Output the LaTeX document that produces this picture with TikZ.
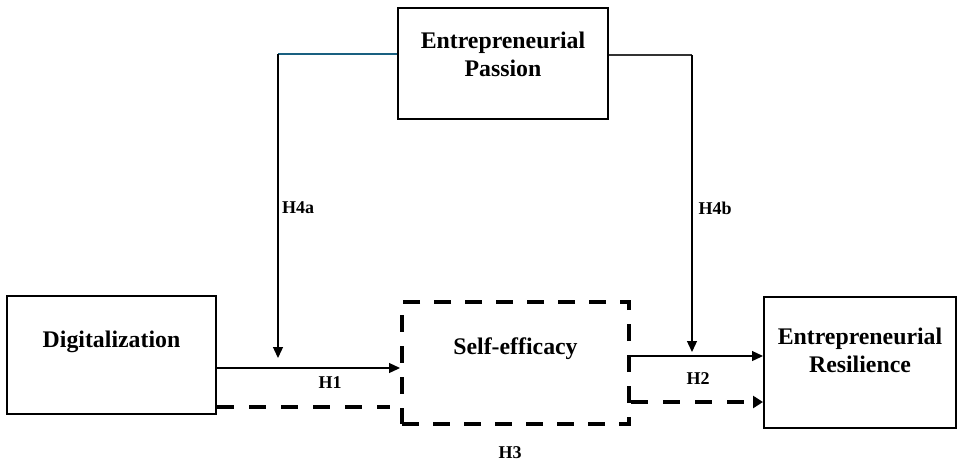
\documentclass[tikz,border=0pt]{standalone}
\usepackage{fontspec}
\setmainfont{Liberation Serif}
\usetikzlibrary{arrows.meta}
\definecolor{linkteal}{RGB}{25,96,128}

\begin{document}
\begin{tikzpicture}[x=0.5pt,y=-0.5pt]
		\tikzstyle{every node}+=[inner sep=0pt]
		\tikzstyle{box}=[draw=black, line width=1pt, rectangle]
		\tikzstyle{dbox}=[draw=black, line width=2pt, dash pattern=on 8.5pt off 7pt, rectangle]
		\tikzstyle{txt}=[font=\fontsize{11.9}{14}\selectfont\bfseries, align=center]
		\tikzstyle{hyp}=[font=\fontsize{9}{11}\selectfont\bfseries]
		\tikzstyle{arr}=[black, line width=0.65pt, -{Triangle[length=5.5pt,width=5pt]}]
		\tikzstyle{darr}=[black, line width=2pt, dash pattern=on 8.5pt off 7.5pt]
		\useasboundingbox (0,0) rectangle (959,463);
		% boxes
		\node [box, minimum width=105pt, minimum height=55.5pt] (pass) at (503,63.5) {};
		\node [txt] (passtxt) at (503,54) {Entrepreneurial\\Passion};
		\node [box, minimum width=104.5pt, minimum height=59pt] (digi) at (111.5,355) {};
		\node [txt] (digitxt) at (111.5,342) {Digitalization};
		\node [dbox, minimum width=113.5pt, minimum height=61pt] (self) at (515.5,363) {};
		\node [txt] (selftxt) at (515.5,349) {Self-efficacy};
		\node [box, minimum width=96pt, minimum height=65.5pt] (res) at (860,362.5) {};
		\node [txt] (restxt) at (860,350) {Entrepreneurial\\Resilience};
		% levels of the connectors
		\coordinate (ka) at (278,54);
		\coordinate (kb) at (692,55);
		\coordinate (ta) at (278,358);
		\coordinate (tb) at (692,352);
		\coordinate (y1) at (0,368);
		\coordinate (y2) at (0,356);
		\coordinate (y3a) at (0,407);
		\coordinate (y3b) at (0,402);
		% moderation
		\draw [linkteal, line width=0.65pt] (pass.west |- ka) -- (ka);
		\draw [arr] (ka) -- (ta);
		\draw [black!80, line width=0.65pt] (pass.east |- kb) -- (kb);
		\draw [arr] (kb) -- (tb);
		\node [hyp] (h4a) at (298,208) {H4a};
		\node [hyp] (h4b) at (715,208) {H4b};
		% direct paths
		\draw [arr] (digi.east |- y1) -- (self.west |- y1);
		\node [hyp] (h1) at (330,383) {H1};
		\draw [arr] (self.east |- y2) -- (res.west |- y2);
		\node [hyp] (h2) at (698,379) {H2};
		% mediation
		\draw [darr] (digi.east |- y3a) -- ([xshift=-5pt]self.west |- y3a);
		\draw [darr, -{Triangle[length=5pt,width=6pt]}] (self.east |- y3b) -- (res.west |- y3b);
		\node [hyp] (h3) at (510,453) {H3};
\end{tikzpicture}
\end{document}
